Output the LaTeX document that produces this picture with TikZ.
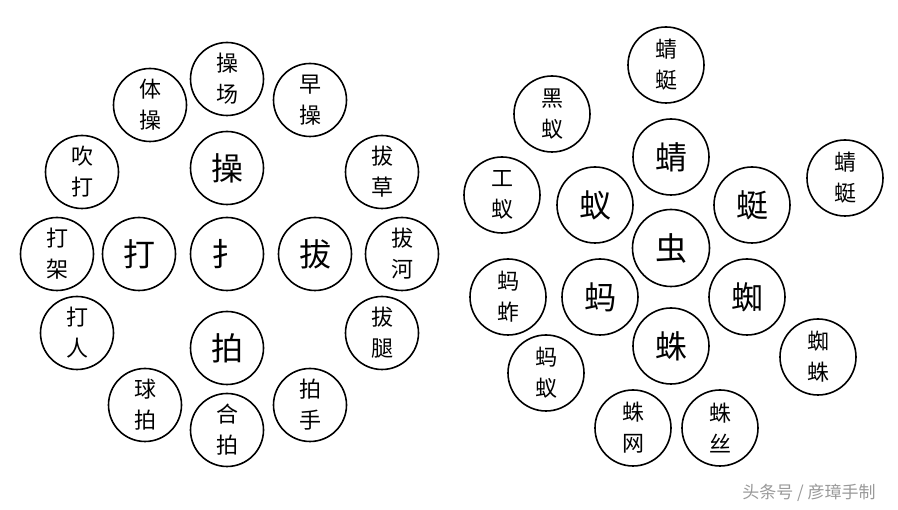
\documentclass[tikz,border=0pt]{standalone}
\usepackage{fontspec}
\newfontfamily\cjk{Noto Sans CJK SC}
\begin{document}
\begin{tikzpicture}[x=1pt,y=-1pt,
  bub/.style={circle,draw=black,line width=1.6pt,fill=white,inner sep=0pt,minimum size=#1,align=center},
  bub/.default=73pt,
  big/.style={font=\cjk\fontsize{32}{32}\selectfont},
  two/.style={font=\cjk\fontsize{22}{31}\selectfont}]
\useasboundingbox (0,0) rectangle (898,510);
% left group
\node[bub,two] (caochang) at (227,79) {操\\场};
\node[bub,two] (ticao) at (150,105) {体\\操};
\node[bub,two] (zaocao) at (310,100) {早\\操};
\node[bub,two] (chuida) at (82,172) {吹\\打};
\node[bub,big] (cao) at (227,168) {操};
\node[bub,two] (bacao) at (382,172) {拔\\草};
\node[bub,two] (dajia) at (57,254) {打\\架};
\node[bub,big] (da) at (139,254) {打};
\node[bub,big] (shou) at (227,254) {扌};
\node[bub,big] (ba) at (315,254) {拔};
\node[bub,two] (bahe) at (402,254) {拔\\河};
\node[bub,two] (daren) at (77,333) {打\\人};
\node[bub,big] (pai) at (227,348) {拍};
\node[bub,two] (batui) at (382,333) {拔\\腿};
\node[bub,two] (qiupai) at (145,405) {球\\拍};
\node[bub,two] (hepai) at (227,430) {合\\拍};
\node[bub,two] (paishou) at (310,405) {拍\\手};
% right group
\node[bub=76pt,two] (qingting1) at (666,65) {蜻\\蜓};
\node[bub=76pt,two] (heiyi) at (552,114) {黑\\蚁};
\node[bub=76pt,big] (qing) at (671,157) {蜻};
\node[bub=76pt,two] (qingting2) at (845,178) {蜻\\蜓};
\node[bub=76pt,two] (gongyi) at (502,195) {工\\蚁};
\node[bub=76pt,big] (yi) at (595,205) {蚁};
\node[bub=76pt,big] (ting) at (752,205) {蜓};
\node[bub=77pt,big] (chong) at (671,248) {虫};
\node[bub=76pt,two] (mazha) at (508,297) {蚂\\蚱};
\node[bub=76pt,big] (ma) at (600,297) {蚂};
\node[bub=76pt,big] (zhi) at (747,297) {蜘};
\node[bub=76pt,big] (zhu) at (671,346) {蛛};
\node[bub=76pt,two] (zhizhu) at (818,357) {蜘\\蛛};
\node[bub=76pt,two] (mayi) at (546,373) {蚂\\蚁};
\node[bub=76pt,two] (zhuwang) at (633,428) {蛛\\网};
\node[bub=76pt,two] (zhusi) at (720,428) {蛛\\丝};
% bottom-right credit
\node[text=black!40,font=\cjk\fontsize{17}{17}\selectfont] (credit) at (809,493) {头条号 / 彦璋手制};
\end{tikzpicture}
\end{document}
